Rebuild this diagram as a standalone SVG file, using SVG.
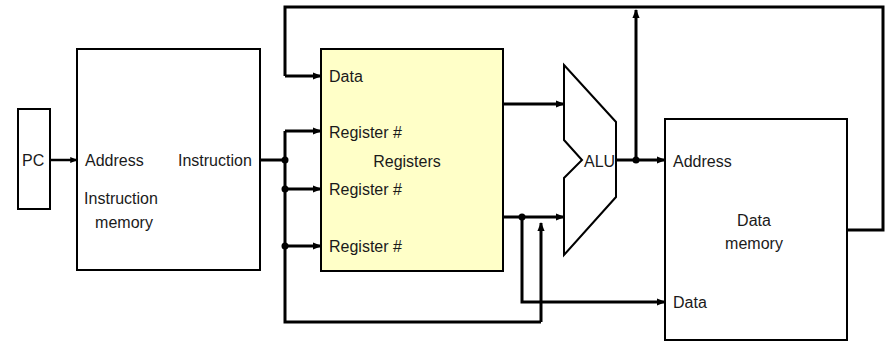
<svg xmlns="http://www.w3.org/2000/svg" width="892" height="341" viewBox="0 0 892 341">
<defs>
<marker id="ah" viewBox="0 0 10 8" refX="9" refY="4" markerWidth="3" markerHeight="2.6" orient="auto" markerUnits="strokeWidth">
<path d="M0,0 L10,4 L0,8 Z" fill="#000"/>
</marker>
<style>
.box{fill:#fff;stroke:#000;stroke-width:2}
.reg{fill:#ffffc8;stroke:#000;stroke-width:2}
.w{fill:none;stroke:#000;stroke-width:3;stroke-linejoin:miter}
.a{fill:none;stroke:#000;stroke-width:3;marker-end:url(#ah)}
.t{font-family:"Liberation Sans",Arial,sans-serif;font-size:16px;fill:#1a1a1a}
.m{text-anchor:middle}
</style>
</defs>
<rect width="892" height="341" fill="#fff"/>
<g id="pc">
<rect class="box" x="18" y="109" width="32" height="100"/>
<text class="t" x="22" y="166">PC</text>
</g>
<g id="imem">
<rect class="box" x="77" y="49" width="183" height="221"/>
<text class="t" x="85" y="166">Address</text>
<text class="t" x="178" y="166">Instruction</text>
<text class="t m" x="121" y="204">Instruction</text>
<text class="t m" x="124" y="228">memory</text>
</g>
<g id="registers">
<rect class="reg" x="321" y="49" width="182" height="222"/>
<text class="t" x="329" y="82">Data</text>
<text class="t" x="329" y="138">Register #</text>
<text class="t m" x="407" y="167">Registers</text>
<text class="t" x="329" y="195">Register #</text>
<text class="t" x="329" y="252">Register #</text>
</g>
<g id="alu">
<path d="M564,65 L616,122 L616,197 L564,255 L564,178 L582,160 L564,140 Z" fill="#fff" stroke="#000" stroke-width="2" stroke-linejoin="miter"/>
<text class="t" x="584" y="167">ALU</text>
</g>
<g id="dmem">
<rect class="box" x="665" y="119" width="182" height="221"/>
<text class="t" x="673" y="167">Address</text>
<text class="t m" x="754" y="226">Data</text>
<text class="t m" x="754" y="249">memory</text>
<text class="t" x="673" y="308">Data</text>
</g>
<g id="connectors">
<path class="a" d="M50,160 L77,160" style="stroke-width:2.5"/>
<path class="w" d="M260,160 L285,160"/>
<path class="w" d="M285,131 L285,322 L541,322"/>
<path class="a" d="M285,131 L321,131"/>
<path class="a" d="M285,189 L321,189"/>
<path class="a" d="M285,246 L321,246"/>
<path class="a" d="M541,322 L541,223"/>
<path class="a" d="M503,104 L564,104"/>
<path class="a" d="M503,217 L564,217"/>
<path class="a" d="M522,217 L522,302 L665,302"/>
<path class="a" d="M616,160 L665,160"/>
<path class="a" d="M636,160 L636,10"/>
<path class="w" d="M847,230 L883,230 L883,7 L285,7 L285,76"/>
<path class="a" d="M285,76 L321,76"/>
<circle cx="285" cy="160" r="3.5"/>
<circle cx="285" cy="189" r="3.5"/>
<circle cx="285" cy="246" r="3.5"/>
<circle cx="522" cy="217" r="3.5"/>
<circle cx="636" cy="160" r="3.5"/>
</g>
</svg>
